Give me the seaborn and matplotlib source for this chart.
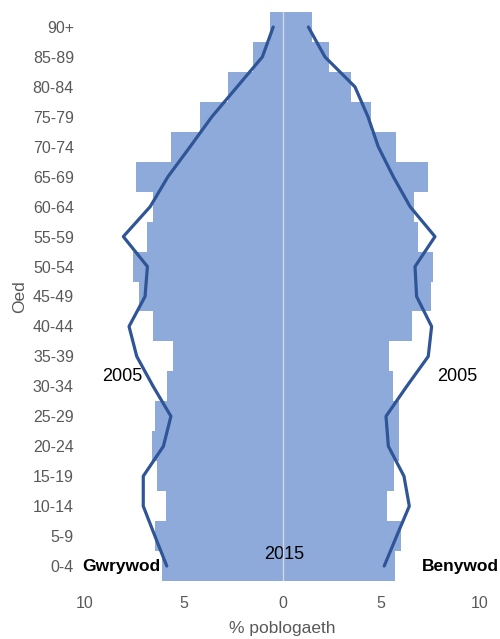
import numpy as np
import pandas as pd
import matplotlib
matplotlib.use("Agg")
import matplotlib.pyplot as plt
import seaborn as sns

ages = ["90+", "85-89", "80-84", "75-79", "70-74", "65-69", "60-64", "55-59",
        "50-54", "45-49", "40-44", "35-39", "30-34", "25-29", "20-24",
        "15-19", "10-14", "5-9", "0-4"]
male_2015 = [0.63, 1.48, 2.77, 4.16, 5.65, 7.42, 6.54, 6.88, 7.59, 7.25,
             6.54, 5.53, 5.83, 6.46, 6.62, 6.34, 5.90, 6.46, 6.09]
female_2015 = [1.51, 2.35, 3.45, 4.46, 5.73, 7.38, 6.67, 6.84, 7.60, 7.50,
               6.54, 5.41, 5.58, 5.90, 5.90, 5.65, 5.27, 5.98, 5.71]
male_2005 = [0.47, 1.02, 2.3, 3.58, 4.68, 5.8, 6.7, 8.06, 6.84, 6.96,
             7.77, 7.38, 6.55, 5.65, 6.03, 7.05, 7.05, 6.46, 5.86]
female_2005 = [1.31, 2.15, 3.67, 4.33, 4.85, 5.61, 6.46, 7.72, 6.71, 6.79,
               7.55, 7.38, 6.29, 5.24, 5.36, 6.15, 6.42, 5.78, 5.15]
xticks = [-10, -5, 0, 5, 10]
xtick_labels = ["10", "5", "0", "5", "10"]

bar_color = "#8eaadb"
line_color = "#2f5597"
text_gray = "#595959"

sns.set_style("white")
plt.rcParams["font.family"] = ["Liberation Sans", "DejaVu Sans"]

df = pd.DataFrame({
    "age": ages + ages,
    "value": [-v for v in male_2015] + female_2015,
    "sex": ["m"] * len(ages) + ["f"] * len(ages),
})

fig = plt.figure(figsize=(5.0, 6.39), dpi=100)
ax = fig.add_axes([0.17, 0.0908, 0.79, 0.8904])

for sex in ["m", "f"]:
    sub = df[df["sex"] == sex]
    sns.barplot(data=sub, x="value", y="age", order=ages, orient="h",
                color=bar_color, saturation=1, width=1.0, ax=ax,
                linewidth=0)

pos = np.arange(len(ages))
sns.lineplot(x=[-v for v in male_2005], y=pos, sort=False, estimator=None,
             color=line_color, lw=2.3, ax=ax)
sns.lineplot(x=female_2005, y=pos, sort=False, estimator=None,
             color=line_color, lw=2.3, ax=ax)

ax.axvline(0, color="#d0d6e2", lw=1.0, zorder=5)

ax.set_xlim(-10, 10)
ax.set_ylim(len(ages) - 0.5, -0.5)
ax.set_xticks(xticks)
ax.set_xticklabels(xtick_labels)
ax.tick_params(axis="x", length=0, pad=11, labelsize=11.5, labelcolor=text_gray)
ax.tick_params(axis="y", length=0, pad=8, labelsize=11.5, labelcolor=text_gray)
for s in ax.spines.values():
    s.set_visible(False)
ax.set_xlabel("% poblogaeth", fontsize=12.5, color=text_gray, labelpad=7)
ax.set_ylabel("Oed", fontsize=12.5, color=text_gray, labelpad=4)

ax.text(-8.1, 11.67, "2005", fontsize=13, ha="center", va="center", color="black")
ax.text(8.83, 11.67, "2005", fontsize=13, ha="center", va="center", color="black")
ax.text(0.1, 17.6, "2015", fontsize=13, ha="center", va="center", color="black")
ax.text(-10.15, 18.0, "Gwrywod", fontsize=12.5, fontweight="bold", ha="left",
        va="center", color="black")
ax.text(10.95, 18.0, "Benywod", fontsize=12.5, fontweight="bold", ha="right",
        va="center", color="black")

fig.savefig("out.png", dpi=100)
